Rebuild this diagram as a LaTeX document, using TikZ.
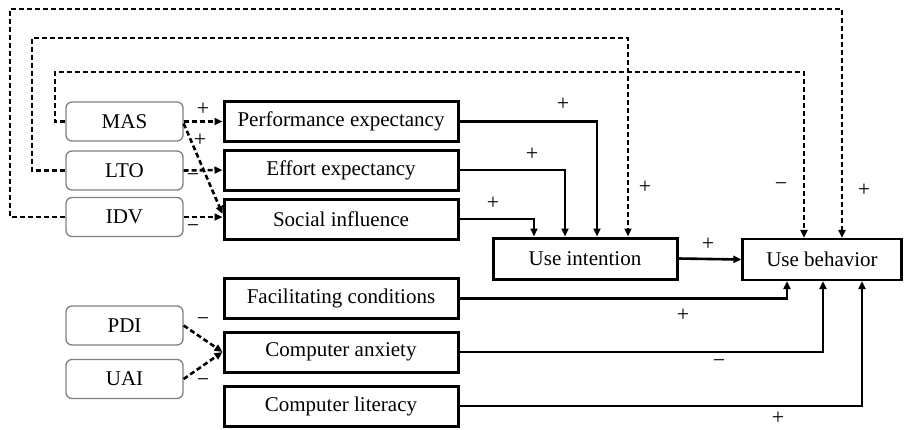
\documentclass[tikz,border=0pt]{standalone}
\usepackage{fontspec}
\setmainfont{Liberation Serif}
\usetikzlibrary{arrows.meta}
\begin{document}
\begin{tikzpicture}[x=1pt,y=-1pt,
  every node/.style={font=\fontsize{21}{24}\selectfont, inner sep=0pt},
  cult/.style={draw=black!50, line width=1.3pt, rounded corners=6pt, minimum width=117pt, minimum height=39pt},
  mainbox/.style={draw=black, line width=3pt, minimum width=234pt, minimum height=40pt},
  sol/.style={line width=2.6pt, -{Triangle[length=8pt,width=7pt]}},
  dsh/.style={line width=2.6pt, dash pattern=on 5pt off 3pt, -{Triangle[length=8pt,width=7pt]}},
  lbl/.style={font=\fontsize{22}{24}\selectfont}
]
\useasboundingbox (0,0) rectangle (905,429);
% cultural dimension boxes
\node[cult] (MAS) at (124.5,121.5) {MAS};
\node[cult] (LTO) at (124.5,170.5) {LTO};
\node[cult] (IDV) at (124.5,217) {IDV};
\node[cult] (PDI) at (124.5,325.5) {PDI};
\node[cult] (UAI) at (124.5,379) {UAI};
% main boxes
\node[mainbox] (PE) at (341,121.5) {Performance expectancy};
\node[mainbox] (EE) at (341,170) {Effort expectancy};
\node[mainbox] (SI) at (341,219) {Social influence};
\node[mainbox] (FC) at (341,298.5) {Facilitating conditions};
\node[mainbox] (CA) at (341,352) {Computer anxiety};
\node[mainbox] (CL) at (341,406) {Computer literacy};
\node[mainbox, minimum width=184pt, minimum height=41pt] (UI) at (585,258.5) {Use intention};
\node[mainbox, minimum width=159pt, line width=2.2pt, minimum height=41pt] (UB) at (822,259.5) {Use behavior};
% solid connectors
\draw[sol] (PE.east) -| ([xshift=12pt]UI.north);
\draw[sol] (EE.east) -| ([xshift=-20pt]UI.north);
\draw[sol] (SI.east) -| ([xshift=-51pt]UI.north);
\draw[sol] (UI.east) -- (UB.west);
\draw[sol] (FC.east) -| ([xshift=-35pt]UB.south);
\draw[sol] (CA.east) -| ([xshift=1pt]UB.south);
\draw[sol] (CL.east) -| ([xshift=40pt]UB.south);
% dashed loops
\draw[dsh] (LTO.west) -| (32,38) -| ([xshift=43pt]UI.north);
\draw[dsh] (MAS.west) -| (55,72) -| ([xshift=-18pt]UB.north);
\draw[dsh] (IDV.west) -| (10,9) -| ([xshift=20pt]UB.north);
% dashed cultural arrows
\draw[dsh] (MAS.east) -- (PE.west);
\draw[dsh] ([yshift=-2pt]MAS.east) -- ([yshift=5pt]SI.west);
\draw[dsh] (LTO.east) -- (EE.west);
\draw[dsh] (IDV.east) -- (IDV.east -| SI.west);
\draw[dsh] (PDI.east) -- (CA.west);
\draw[dsh] (UAI.east) -- (CA.west);
% labels
\node[lbl] (l1) at (203,109) {+};
\node[lbl] (l2) at (200,140) {+};
\node[lbl] (l3) at (193,178) {−};
\node[lbl] (l4) at (193,229) {−};
\node[lbl] (l5) at (203,322) {−};
\node[lbl] (l6) at (203,383) {−};
\node[lbl] (l7) at (563,104) {+};
\node[lbl] (l8) at (532,154) {+};
\node[lbl] (l9) at (493,203) {+};
\node[lbl] (l10) at (645,187) {+};
\node[lbl] (l11) at (781,187) {−};
\node[lbl] (l12) at (864,190) {+};
\node[lbl] (l13) at (708,244) {+};
\node[lbl] (l14) at (683,315) {+};
\node[lbl] (l15) at (719,364) {−};
\node[lbl] (l16) at (778,418) {+};
\end{tikzpicture}
\end{document}
